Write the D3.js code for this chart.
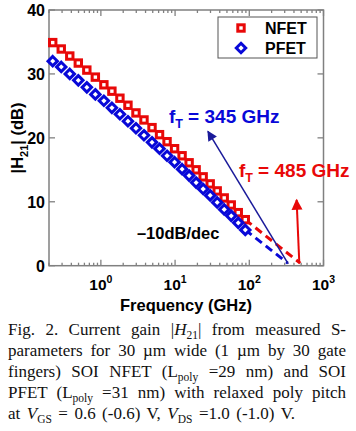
<!DOCTYPE html>
<html><head><meta charset="utf-8">
<script src="https://cdn.jsdelivr.net/npm/d3@7"></script>
<style>html,body{margin:0;padding:0;background:#fff;} svg{display:block;}</style>
</head><body>
<svg id="c" width="356" height="431"></svg>
<script>
// ---- data ----
const freqGHz = [0.2245,0.2925,0.381,0.4964,0.6468,0.8426,1.098,1.408,1.806,2.317,2.972,3.812,4.890,6.173,7.797,9.845,12.43,15.46,19.22,23.90,29.72,36.95,45.94,57.12,71.02,88.30];
const nfetDB = [34.9,33.9,32.8,31.7,30.6,29.5,28.3,27.3,26.2,25.1,23.9,22.8,21.6,20.5,19.4,18.3,17.2,16.1,15.0,13.9,12.8,11.7,10.6,9.5,8.3,7.2];
const pfetDB = [32.0,31.1,30.0,29.0,27.9,26.8,25.8,24.7,23.7,22.6,21.5,20.4,19.3,18.3,17.2,16.2,15.1,14.1,13.0,12.0,11.0,9.9,8.8,7.8,6.7,5.6];
const nfetExtrap = [[88.30,7.2],[485,0.4]];
const pfetExtrap = [[88.30,5.6],[330,0.4]];
const blueArrow = [[335,0.3],[27.7,21.0]];
const redArrow = [[472,0.4],[434,10.3]];
const yTicks = [0,10,20,30,40];
const xMajor = [1,10,100,1000];
const xExp = ["0","1","2","3"];
const seriesNames = ["NFET","PFET"];

const svg=d3.select("#c");
const x=d3.scaleLog().domain([0.2,1000]).range([49,323.5]);
const y=d3.scaleLinear().domain([0,40]).range([265.7,10]);
const RED="#e80808", BLUE="#0808d8", AX="#808080";
const SANS="'Liberation Sans', Arial, sans-serif", SERIF="'Liberation Serif','Times New Roman',serif";

const g=svg.append("g");
g.append("rect").attr("x",x.range()[0]).attr("y",y.range()[1])
 .attr("width",x.range()[1]-x.range()[0]).attr("height",y.range()[0]-y.range()[1])
 .attr("fill","none").attr("stroke",AX).attr("stroke-width",1.5);

const allX=x.ticks().filter(v=>v>=0.2&&v<=1000);
allX.forEach(v=>{
  const major=xMajor.includes(v); const L=major?6:3;
  g.append("line").attr("x1",x(v)).attr("x2",x(v)).attr("y1",y(0)).attr("y2",y(0)-L).attr("stroke",AX).attr("stroke-width",1.3);
  g.append("line").attr("x1",x(v)).attr("x2",x(v)).attr("y1",y(40)).attr("y2",y(40)+L).attr("stroke",AX).attr("stroke-width",1.3);
});
yTicks.forEach(v=>{
  g.append("line").attr("x1",x(0.2)).attr("x2",x(0.2)+6).attr("y1",y(v)).attr("y2",y(v)).attr("stroke",AX).attr("stroke-width",1.3);
  g.append("line").attr("x1",x(1000)).attr("x2",x(1000)-6).attr("y1",y(v)).attr("y2",y(v)).attr("stroke",AX).attr("stroke-width",1.3);
  g.append("text").attr("x",45).attr("y",y(v)+5.8).attr("text-anchor","end")
   .attr("font-family",SANS).attr("font-weight","bold").attr("font-size",16).text(v);
});
xMajor.forEach((v,i)=>{
  const t=g.append("text").attr("x",x(v)).attr("y",290).attr("text-anchor","middle")
   .attr("font-family",SANS).attr("font-weight","bold").attr("font-size",15.5);
  t.append("tspan").text("10");
  t.append("tspan").attr("dy",-7).attr("font-size",10.5).text(xExp[i]);
});
g.append("text").attr("x",186).attr("y",311).attr("text-anchor","middle")
 .attr("font-family",SANS).attr("font-weight","bold").attr("font-size",16.5).text("Frequency (GHz)");
const yl=g.append("text").attr("transform","translate(23,138) rotate(-90)").attr("text-anchor","middle")
 .attr("font-family",SANS).attr("font-weight","bold").attr("font-size",16.5);
yl.append("tspan").text("|H");
yl.append("tspan").attr("dy",5).attr("font-size",11).text("21");
yl.append("tspan").attr("dy",-5).text("| (dB)");

const line=d3.line().x(d=>x(d[0])).y(d=>y(d[1]));
g.append("path").attr("d",line(nfetExtrap)).attr("stroke",RED).attr("stroke-width",3).attr("fill","none").attr("stroke-dasharray","8,5");
g.append("path").attr("d",line(pfetExtrap)).attr("stroke",BLUE).attr("stroke-width",3).attr("fill","none").attr("stroke-dasharray","8,5");

const defs=svg.append("defs");
function marker(id,col,w,h){
  defs.append("marker").attr("id",id).attr("viewBox","0 0 10 10").attr("refX",9).attr("refY",5)
   .attr("markerUnits","userSpaceOnUse").attr("markerWidth",w).attr("markerHeight",h).attr("orient","auto")
   .append("path").attr("d","M0,0L10,5L0,10Z").attr("fill",col);
}
marker("ab","#1a1a9a",13,10);
marker("ar",RED,14,11);
g.append("path").attr("d",line(blueArrow)).attr("stroke","#1a1a9a").attr("stroke-width",1.5).attr("fill","none").attr("marker-end","url(#ab)");
g.append("path").attr("d",line(redArrow)).attr("stroke",RED).attr("stroke-width",2).attr("fill","none").attr("marker-end","url(#ar)");

const sq=6.4, dm=4.7, SW=3;
function square(sel,cx,cy){ sel.append("rect").attr("x",cx-sq/2).attr("y",cy-sq/2).attr("width",sq).attr("height",sq).attr("fill","#fff").attr("stroke",RED).attr("stroke-width",SW); }
function diamond(sel,cx,cy){ sel.append("path").attr("d",`M${cx},${cy-dm}L${cx+dm},${cy}L${cx},${cy+dm}L${cx-dm},${cy}Z`).attr("fill","#fff").attr("stroke",BLUE).attr("stroke-width",SW); }
freqGHz.forEach((f,i)=>square(g,x(f),y(nfetDB[i])));
freqGHz.forEach((f,i)=>diamond(g,x(f),y(pfetDB[i])));

g.append("rect").attr("x",218).attr("y",17).attr("width",99).attr("height",41).attr("fill","#fff").attr("stroke","#555").attr("stroke-width",1);
square(g,241,28); diamond(g,241,48);
g.append("text").attr("x",265).attr("y",34).attr("font-family",SANS).attr("font-weight","bold").attr("font-size",16).text(seriesNames[0]);
g.append("text").attr("x",265).attr("y",54).attr("font-family",SANS).attr("font-weight","bold").attr("font-size",16).text(seriesNames[1]);

function ft(col,f,db,val){
  const t=g.append("text").attr("x",x(f)).attr("y",y(db)).attr("fill",col)
   .attr("font-family",SANS).attr("font-weight","bold").attr("font-size",19);
  t.append("tspan").text("f");
  t.append("tspan").attr("dy",5).attr("font-size",12.5).text("T");
  t.append("tspan").attr("dy",-5).text(" = "+val+" GHz");
}
ft(BLUE,8.25,22.3,"345");
ft(RED,72.4,13.86,"485");
g.append("text").attr("x",x(3.06)).attr("y",y(4.17)).attr("font-family",SANS).attr("font-weight","bold").attr("font-size",16.5).text("\u201310dB/dec");

const cap=[
 {y:335,w:338,s:[["Fig. 2. Current gain |","n"],["H","i"],["21","sub"],["| from measured S-","n"]]},
 {y:356,w:338,s:[["parameters for 30 \u00b5m wide (1 \u00b5m by 30 gate","n"]]},
 {y:377,w:338,s:[["fingers) SOI NFET (L","n"],["poly","sub"],[" =29 nm) and SOI","n"]]},
 {y:398,w:338,s:[["PFET (L","n"],["poly","sub"],[" =31 nm) with relaxed poly pitch","n"]]},
 {y:419,w:287,s:[["at ","n"],["V","i"],["GS","sub"],[" = 0.6 (-0.6) V, ","n"],["V","i"],["DS","sub"],[" =1.0 (-1.0) V.","n"]]}
];
cap.forEach(L=>{
  const t=g.append("text").attr("x",8).attr("y",L.y).attr("font-family",SERIF).attr("font-size",17).attr("fill","#111");
  let prevSub=false; let spaces=0;
  L.s.forEach(([txt,st])=>{
    const ts=t.append("tspan").text(txt);
    spaces+=(txt.match(/ /g)||[]).length;
    if(st==="i") ts.attr("font-style","italic");
    if(st==="sub"){ ts.attr("font-size",11.5).attr("dy",3.5); prevSub=true; }
    else if(prevSub){ ts.attr("dy",-3.5); prevSub=false; }
  });
  const len=t.node().getComputedTextLength();
  if(spaces>0) t.attr("word-spacing",(L.w-len)/spaces);
});
</script>
</body></html>
